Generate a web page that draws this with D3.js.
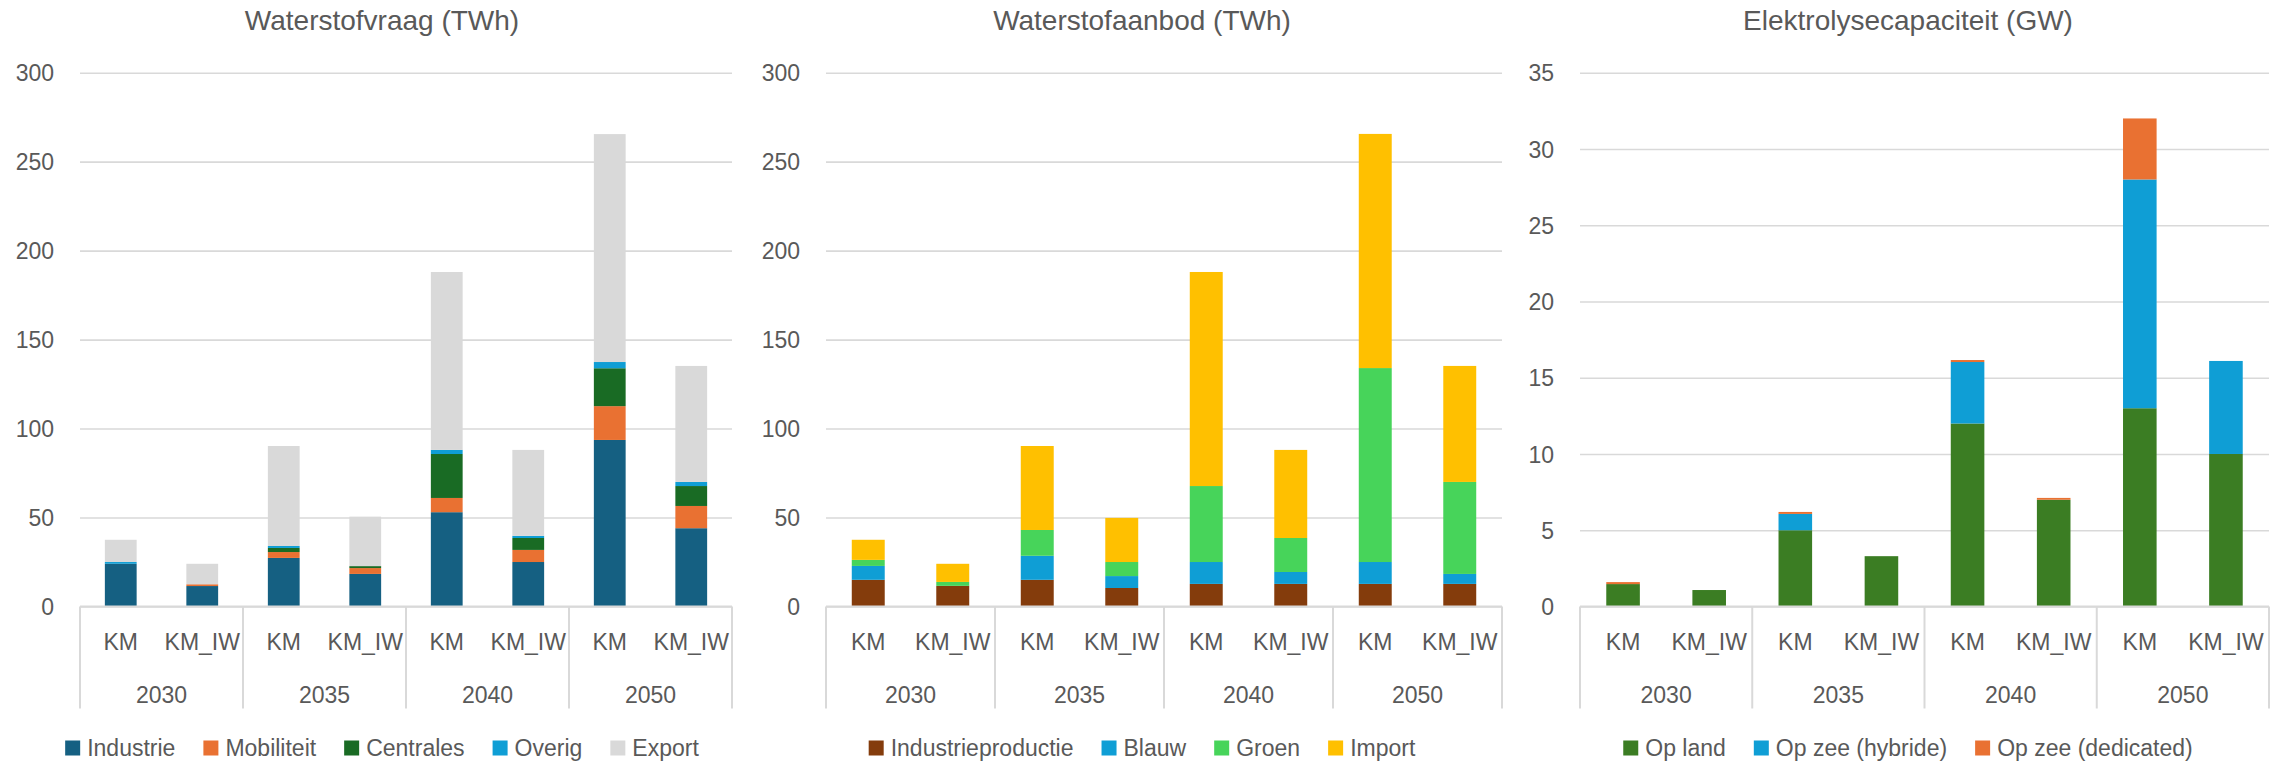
<!DOCTYPE html>
<html>
<head>
<meta charset="utf-8">
<script src="https://cdn.jsdelivr.net/npm/d3@7"></script>
<style>
  body { margin: 0; background: #fff; }
  svg text { font-family: "Liberation Sans", Arial, sans-serif; fill: #595959; }
</style>
</head>
<body>
<svg id="chart" width="2274" height="762"></svg>
<script>
const years = ['2030', '2035', '2040', '2050'];
const scenarios = ['KM', 'KM_IW'];

// values per bar: 2030 KM, 2030 KM_IW, 2035 KM, 2035 KM_IW, 2040 KM, 2040 KM_IW, 2050 KM, 2050 KM_IW

// Waterstofvraag (TWh)
const vraagKeys = ['Industrie', 'Mobiliteit', 'Centrales', 'Overig', 'Export'];
const vraagIndustrie = [24, 11.5, 27.3, 18.3, 53, 25, 93.6, 44];
const vraagMobiliteit = [0, 1, 3.3, 3.3, 8, 6.8, 19, 12.5];
const vraagCentrales = [0, 0, 2.3, 1.1, 24.7, 6.7, 21.3, 11.2];
const vraagOverig = [1, 0, 1.1, 0, 2.3, 1.2, 3.5, 2.3];
const vraagExport = [12.5, 11.5, 56.2, 27.8, 100, 48.3, 128.1, 65.2];
const vraagColors = ['#156082', '#e97132', '#196b24', '#0f9ed5', '#d9d9d9'];

// Waterstofaanbod (TWh)
const aanbodKeys = ['Industrieproductie', 'Blauw', 'Groen', 'Import'];
const aanbodIndustrie = [15, 11.6, 15, 10.4, 12.7, 12.7, 12.7, 12.7];
const aanbodBlauw = [7.8, 0, 13.5, 6.7, 12.3, 6.7, 12.3, 5.6];
const aanbodGroen = [3.4, 2.2, 14.5, 7.9, 42.7, 19.1, 109, 51.7];
const aanbodImport = [11.3, 10.2, 47.2, 24.8, 120.3, 49.5, 131.6, 65.2];
const aanbodColors = ['#843c0c', '#0f9ed5', '#47d45a', '#ffc000'];

// Elektrolysecapaciteit (GW)
const capKeys = ['Op land', 'Op zee (hybride)', 'Op zee (dedicated)'];
const capLand = [1.47, 1.08, 5.0, 3.3, 12, 7.0, 13, 10];
const capHybride = [0, 0, 1.07, 0, 4.03, 0, 15, 6.1];
const capDedicated = [0.13, 0, 0.13, 0, 0.13, 0.12, 4, 0];
const capColors = ['#3b7d23', '#0f9ed5', '#e97132'];

const svg = d3.select('#chart');
const gridColor = '#d9d9d9';
const plotTop = 72.7;
const plotBottom = 606.5;

const charts = [
  {
    title: 'Waterstofvraag (TWh)', left: 80, right: 732, center: 382,
    keys: vraagKeys, colors: vraagColors, yMax: 300, yStep: 50,
    series: [vraagIndustrie, vraagMobiliteit, vraagCentrales, vraagOverig, vraagExport]
  },
  {
    title: 'Waterstofaanbod (TWh)', left: 826, right: 1502, center: 1142,
    keys: aanbodKeys, colors: aanbodColors, yMax: 300, yStep: 50,
    series: [aanbodIndustrie, aanbodBlauw, aanbodGroen, aanbodImport]
  },
  {
    title: 'Elektrolysecapaciteit (GW)', left: 1580, right: 2269, center: 1908,
    keys: capKeys, colors: capColors, yMax: 35, yStep: 5,
    series: [capLand, capHybride, capDedicated]
  }
];

charts.forEach(drawChart);

function drawChart(cfg) {
  const rows = [];
  years.forEach((year, i) => {
    scenarios.forEach((scen, j) => {
      const idx = i * scenarios.length + j;
      const row = { year, scen };
      cfg.keys.forEach((k, s) => (row[k] = cfg.series[s][idx]));
      rows.push(row);
    });
  });

  const stacked = d3.stack().keys(cfg.keys)(rows);

  const x0 = d3.scaleBand().domain(years).range([cfg.left, cfg.right]);
  const x1 = d3
    .scaleBand()
    .domain(scenarios)
    .range([0, x0.bandwidth()])
    .paddingInner(0.61)
    .paddingOuter(0.305);
  const y = d3.scaleLinear().domain([0, cfg.yMax]).range([plotBottom, plotTop]);

  const g = svg.append('g');

  // title
  g.append('text')
    .attr('x', cfg.center)
    .attr('y', 30)
    .attr('text-anchor', 'middle')
    .style('font-size', '28px')
    .text(cfg.title);

  // value axis with gridlines
  const yAxis = d3
    .axisLeft(y)
    .tickValues(d3.range(0, cfg.yMax + cfg.yStep / 2, cfg.yStep))
    .tickSize(-(cfg.right - cfg.left))
    .tickPadding(26)
    .tickFormat(d3.format('d'));

  const ya = g
    .append('g')
    .attr('transform', `translate(${cfg.left},0)`)
    .call(yAxis);
  ya.select('.domain').remove();
  ya.selectAll('.tick line').attr('stroke', gridColor).attr('stroke-width', 1.6);
  ya.selectAll('.tick text')
    .style('font-size', '23px')
    .attr('fill', '#595959')
    .attr('dy', '0.35em');

  // bars
  g.selectAll('.series')
    .data(stacked)
    .enter()
    .append('g')
    .attr('fill', (d, i) => cfg.colors[i])
    .selectAll('rect')
    .data(d => d)
    .enter()
    .append('rect')
    .attr('x', d => x0(d.data.year) + x1(d.data.scen))
    .attr('width', x1.bandwidth())
    .attr('y', d => y(d[1]))
    .attr('height', d => Math.max(0, y(d[0]) - y(d[1])));

  // category axis
  const y0 = y(0);
  g.append('line')
    .attr('x1', cfg.left)
    .attr('x2', cfg.right)
    .attr('y1', y0)
    .attr('y2', y0)
    .attr('stroke', gridColor)
    .attr('stroke-width', 2);

  const bounds = years.map(d => x0(d)).concat([cfg.right]);
  g.selectAll('.sep')
    .data(bounds)
    .enter()
    .append('line')
    .attr('x1', d => d)
    .attr('x2', d => d)
    .attr('y1', y0)
    .attr('y2', y0 + 102)
    .attr('stroke', gridColor)
    .attr('stroke-width', 2);

  g.selectAll('.scen')
    .data(rows)
    .enter()
    .append('text')
    .attr('x', d => x0(d.year) + x1(d.scen) + x1.bandwidth() / 2)
    .attr('y', 642)
    .attr('dy', '0.35em')
    .attr('text-anchor', 'middle')
    .style('font-size', '23px')
    .text(d => d.scen);

  g.selectAll('.year')
    .data(years)
    .enter()
    .append('text')
    .attr('x', d => x0(d) + x0.bandwidth() / 2)
    .attr('y', 695)
    .attr('dy', '0.35em')
    .attr('text-anchor', 'middle')
    .style('font-size', '23px')
    .text(d => d);

  // legend
  const legend = g.append('g');
  const items = legend
    .selectAll('g')
    .data(cfg.keys)
    .enter()
    .append('g');
  items
    .append('rect')
    .attr('width', 15)
    .attr('height', 15)
    .attr('y', -7.5)
    .attr('fill', (d, i) => cfg.colors[i]);
  items
    .append('text')
    .attr('x', 22)
    .attr('dy', '0.35em')
    .style('font-size', '23px')
    .text(d => d);

  let offset = 0;
  items.each(function () {
    const w = 22 + this.querySelector('text').getComputedTextLength();
    d3.select(this).attr('transform', `translate(${offset},0)`);
    offset += w + 28;
  });
  const total = offset - 28;
  legend.attr('transform', `translate(${cfg.center - total / 2},748)`);
}
</script>
</body>
</html>
